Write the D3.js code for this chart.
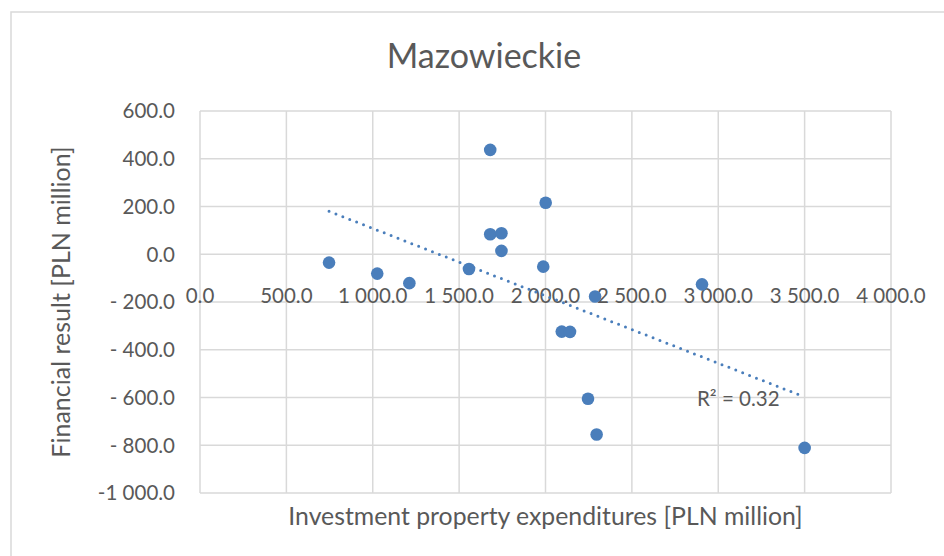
<!DOCTYPE html>
<html>
<head>
<meta charset="utf-8">
<script src="https://cdn.jsdelivr.net/npm/d3@7"></script>
<style>
  html, body { margin: 0; padding: 0; background: #fff; }
  svg { display: block; font-family: Lato, "Open Sans", sans-serif; }
</style>
</head>
<body>
<div id="chart"></div>
<script>
// values
var expenditures = [747, 1026, 1212, 1557, 1680, 2001, 1680, 1745, 1745, 1987, 2287, 2094, 2142, 2246, 2296, 2906, 3500];
var financialResult = [-35, -81, -121, -62, 437, 216, 84, 88, 14, -52, -177, -324, -325, -605, -755, -126, -811];

var xTicks = [0, 500, 1000, 1500, 2000, 2500, 3000, 3500, 4000];
var xTickLabels = ["0.0", "500.0", "1 000.0", "1 500.0", "2 000.0", "2 500.0", "3 000.0", "3 500.0", "4 000.0"];
var yTicks = [600, 400, 200, 0, -200, -400, -600, -800, -1000];
var yTickLabels = ["600.0", "400.0", "200.0", "0.0", "- 200.0", "- 400.0", "- 600.0", "- 800.0", "-1 000.0"];

var titleText = "Mazowieckie";
var xTitle = "Investment property expenditures [PLN million]";
var yTitle = "Financial result [PLN million]";

var width = 944;
var height = 556;
var margin = {top: 111, right: 53, bottom: 63, left: 200};
var dotColor = '#4a7ebb';
var gridColor = '#d9d9d9';
var textColor = '#595959';

var x = d3.scaleLinear().domain([0, 4000]).range([margin.left, width - margin.right]);
var y = d3.scaleLinear().domain([-1000, 600]).range([height - margin.bottom, margin.top]);

var svg = d3.select('#chart').append('svg')
    .attr('width', width)
    .attr('height', height);

// chart frame
svg.append('rect')
    .attr('x', 11).attr('y', 12)
    .attr('width', width + 20).attr('height', height + 20)
    .attr('fill', '#fff')
    .attr('stroke', gridColor)
    .attr('stroke-width', 1.5);

// gridlines
svg.append('g')
    .selectAll('line')
    .data(yTicks)
    .enter().append('line')
    .attr('x1', x(0)).attr('x2', x(4000))
    .attr('y1', function (d) { return y(d); })
    .attr('y2', function (d) { return y(d); })
    .attr('stroke', gridColor)
    .attr('stroke-width', 1.5);

svg.append('g')
    .selectAll('line')
    .data(xTicks)
    .enter().append('line')
    .attr('y1', y(600)).attr('y2', y(-1000))
    .attr('x1', function (d) { return x(d); })
    .attr('x2', function (d) { return x(d); })
    .attr('stroke', gridColor)
    .attr('stroke-width', 1.5);

// tick labels
svg.append('g')
    .selectAll('text')
    .data(yTicks)
    .enter().append('text')
    .attr('x', x(0) - 25)
    .attr('y', function (d) { return y(d); })
    .attr('dy', '0.36em')
    .attr('text-anchor', 'end')
    .attr('font-size', 20.5)
    .attr('fill', textColor)
    .text(function (d, i) { return yTickLabels[i]; });

svg.append('g')
    .selectAll('text')
    .data(xTicks)
    .enter().append('text')
    .attr('x', function (d) { return x(d); })
    .attr('y', y(0) + 41)
    .attr('dy', '0.36em')
    .attr('text-anchor', 'middle')
    .attr('font-size', 20.5)
    .attr('fill', textColor)
    .text(function (d, i) { return xTickLabels[i]; });

// linear trendline (least squares)
var n = expenditures.length;
var mx = d3.mean(expenditures), my = d3.mean(financialResult);
var sxy = 0, sxx = 0, syy = 0;
for (var i = 0; i < n; i++) {
    sxy += (expenditures[i] - mx) * (financialResult[i] - my);
    sxx += (expenditures[i] - mx) * (expenditures[i] - mx);
    syy += (financialResult[i] - my) * (financialResult[i] - my);
}
var slope = sxy / sxx;
var intercept = my - slope * mx;
var r2 = (sxy * sxy) / (sxx * syy);
var xExt = d3.extent(expenditures);

var line = d3.line()
    .x(function (d) { return x(d); })
    .y(function (d) { return y(intercept + slope * d); });

svg.append('path')
    .datum(xExt)
    .attr('d', line)
    .attr('fill', 'none')
    .attr('stroke', dotColor)
    .attr('stroke-width', 3)
    .attr('stroke-linecap', 'round')
    .attr('stroke-dasharray', '0 7.4');

svg.append('text')
    .attr('x', x(xExt[1]) - 25)
    .attr('y', y(intercept + slope * xExt[1]) + 9)
    .attr('text-anchor', 'end')
    .attr('font-size', 20.5)
    .attr('fill', textColor)
    .text('R\u00b2 = ' + r2.toFixed(2));

// points
svg.append('g')
    .selectAll('circle')
    .data(expenditures)
    .enter().append('circle')
    .attr('cx', function (d) { return x(d); })
    .attr('cy', function (d, i) { return y(financialResult[i]); })
    .attr('r', 6.3)
    .attr('fill', dotColor);

// titles
svg.append('text')
    .attr('x', 484).attr('y', 68)
    .attr('text-anchor', 'middle')
    .attr('font-size', 34)
    .attr('fill', textColor)
    .text(titleText);

svg.append('text')
    .attr('x', (x(0) + x(4000)) / 2).attr('y', 525)
    .attr('text-anchor', 'middle')
    .attr('font-size', 24.8)
    .attr('fill', textColor)
    .text(xTitle);

svg.append('text')
    .attr('transform', 'translate(70,' + ((y(600) + y(-1000)) / 2) + ') rotate(-90)')
    .attr('text-anchor', 'middle')
    .attr('font-size', 25)
    .attr('fill', textColor)
    .text(yTitle);
</script>
</body>
</html>
